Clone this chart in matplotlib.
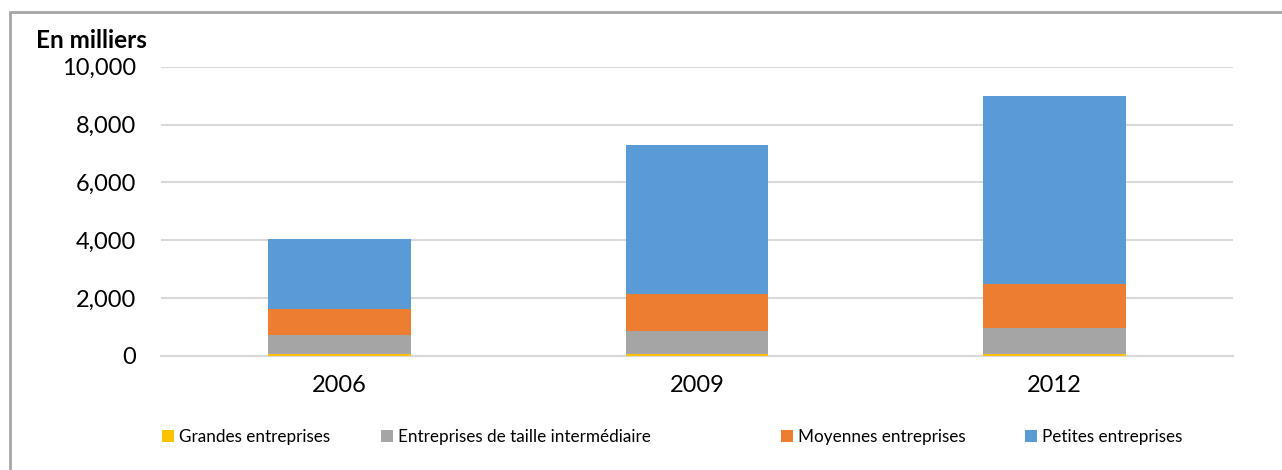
import numpy as np
import matplotlib.pyplot as plt
from matplotlib.patches import Rectangle
from matplotlib.ticker import FuncFormatter

years = ["2006", "2009", "2012"]
series = ["Grandes entreprises", "Entreprises de taille intermédiaire",
          "Moyennes entreprises", "Petites entreprises"]
grandes = [55, 60, 60]
eti = [660, 805, 910]
moyennes = [915, 1275, 1530]
petites = [2420, 5140, 6490]
colors = ["#ffc000", "#a5a5a5", "#ed7d31", "#5b9bd5"]

plt.rcParams['font.family'] = ['Lato', 'DejaVu Sans']

fig = plt.figure(figsize=(12.82, 4.70), dpi=100)
ax = fig.add_axes([161 / 1282, 1 - 356 / 470, 1072 / 1282, (356 - 66.7) / 470])

# cadre gris autour du graphique
fig.patches.append(Rectangle((10 / 1282, -0.1), 1.2, 1 - 12 / 470 + 0.1,
                             transform=fig.transFigure, fill=False,
                             edgecolor="#a6a6a6", linewidth=2))

x = np.arange(len(years))
bottom = np.zeros(len(years))
bars = []
for name, vals, c in zip(series, [grandes, eti, moyennes, petites], colors):
    b = ax.bar(x, vals, width=0.4, bottom=bottom, color=c, label=name, zorder=3)
    bars.append(b)
    bottom += np.array(vals)

ax.set_xlim(-0.5, 2.5)
ax.set_ylim(0, 10000)
ax.set_yticks(np.arange(0, 10001, 2000))
ax.yaxis.set_major_formatter(FuncFormatter(lambda v, p: f"{int(v):,}"))
ax.set_xticks(x)
ax.set_xticklabels(years)
ax.tick_params(axis="both", length=0, labelsize=17, colors="black")
ax.tick_params(axis="y", pad=18)
ax.tick_params(axis="x", pad=14)
ax.grid(axis="y", color="#d9d9d9", linewidth=1.5, zorder=0)
for s in ["top", "right", "left"]:
    ax.spines[s].set_visible(False)
ax.spines["bottom"].set_color("#d9d9d9")
ax.spines["bottom"].set_linewidth(1.5)

fig.text(36 / 1282, 1 - 41 / 470, "En milliers", fontsize=17.5, fontweight="bold",
         va="center", ha="left")

# légende : une entrée par position, comme dans Excel
leg_x = [162, 381, 781, 1025]
for b, name, lx in zip(bars, series, leg_x):
    leg = fig.legend([b], [name], loc="center left",
                     bbox_to_anchor=(lx / 1282, 1 - 437 / 470),
                     frameon=False, fontsize=12.3, handlelength=0.7,
                     handleheight=0.7, handletextpad=0.3,
                     borderpad=0, borderaxespad=0)

fig.savefig("out.png", dpi=100)
